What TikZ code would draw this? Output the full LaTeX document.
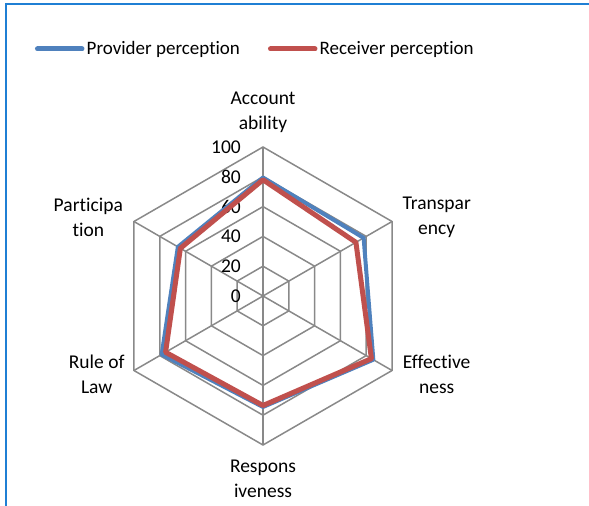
\documentclass[tikz,border=0pt]{standalone}
\usepackage{fontspec}
\setmainfont{Carlito}[Ligatures={NoCommon}]
\usepackage{xcolor}
\definecolor{4f81bd}{HTML}{4F81BD}
\definecolor{c0504d}{HTML}{C0504D}
\definecolor{898989}{HTML}{898989}
\definecolor{1f7fd4}{HTML}{1F7FD4}
\usepackage{tikz}

\begin{document}
\begin{tikzpicture}[x=1pt, y=1pt,
                        grid/.style={color=898989, line width=1.5pt},
                        axislabel/.style={align=center, font=\fontsize{19.5}{25}\selectfont},
                        ticklabel/.style={anchor=east, inner sep=0pt, font=\fontsize{19.5}{23}\selectfont},
                        legendtext/.style={anchor=west, inner sep=1.5pt, font=\fontsize{19}{23}\selectfont},
                        provider/.style={color=4f81bd, line width=4pt, line join=round},
                        receiver/.style={color=c0504d, line width=5pt, line join=round}]
                        \useasboundingbox (-263, -210) rectangle (326, 296);
                        \draw[color=1f7fd4, line width=2pt] (-257, -210) -- (-257, 292) -- (326, 292);

                        % grid
                        \draw[grid] (90:29.8) -- (30:29.8) -- (-30:29.8) -- (-90:29.8) -- (-150:29.8) -- (150:29.8) -- cycle;
                        \draw[grid] (90:59.6) -- (30:59.6) -- (-30:59.6) -- (-90:59.6) -- (-150:59.6) -- (150:59.6) -- cycle;
                        \draw[grid] (90:89.4) -- (30:89.4) -- (-30:89.4) -- (-90:89.4) -- (-150:89.4) -- (150:89.4) -- cycle;
                        \draw[grid] (90:119.2) -- (30:119.2) -- (-30:119.2) -- (-90:119.2) -- (-150:119.2) -- (150:119.2) -- cycle;
                        \draw[grid] (90:149) -- (30:149) -- (-30:149) -- (-90:149) -- (-150:149) -- (150:149) -- cycle;
                        \draw[grid] (90:149) -- (-90:149);
                        \draw[grid] (30:149) -- (-150:149);
                        \draw[grid] (-30:149) -- (150:149);

                        \node (t0) at (-22, 0) [ticklabel] {0};
                        \node (t20) at (-22, 29.8) [ticklabel] {20};
                        \node (t40) at (-22, 59.6) [ticklabel] {40};
                        \node (t60) at (-22, 89.4) [ticklabel] {60};
                        \node (t80) at (-22, 119.2) [ticklabel] {80};
                        \node (t100) at (-22, 149) [ticklabel] {100};

                        % series
                        \draw[provider] (90:118.5) -- (30:116.2) -- (-30:127.4) -- (-90:111) -- (-150:117) -- (150:98.3) -- cycle;
                        \draw[receiver] (90:116.2) -- (30:107.3) -- (-30:125.2) -- (-90:109.5) -- (-150:112.5) -- (150:95.4) -- cycle;

                        \node (acc) at (0, 183.5) [axislabel] {Account\\ability};
                        \node (tra) at (173.7, 78.5) [axislabel] {Transpar\\ency};
                        \node (eff) at (173.7, -78.2) [axislabel] {Effective\\ness};
                        \node (res) at (0, -183.2) [axislabel] {Respons\\iveness};
                        \node (rol) at (-166.3, -78.2) [axislabel] {Rule of\\Law};
                        \node (par) at (-174.7, 78.5) [axislabel] {Participa\\tion};

                        % legend
                        \coordinate (provstart) at (-225.5, 247);
                        \node (provtext) at (-178, 247) [legendtext] {Provider perception};
                        \draw[provider, line width=5pt, line cap=round, shorten >=3pt] (provstart) -- (provtext.west);
                        \coordinate (recvstart) at (7.5, 247);
                        \node (recvtext) at (55, 247) [legendtext] {Receiver perception};
                        \draw[receiver, line cap=round, shorten >=3pt] (recvstart) -- (recvtext.west);
                    \end{tikzpicture}
\end{document}
